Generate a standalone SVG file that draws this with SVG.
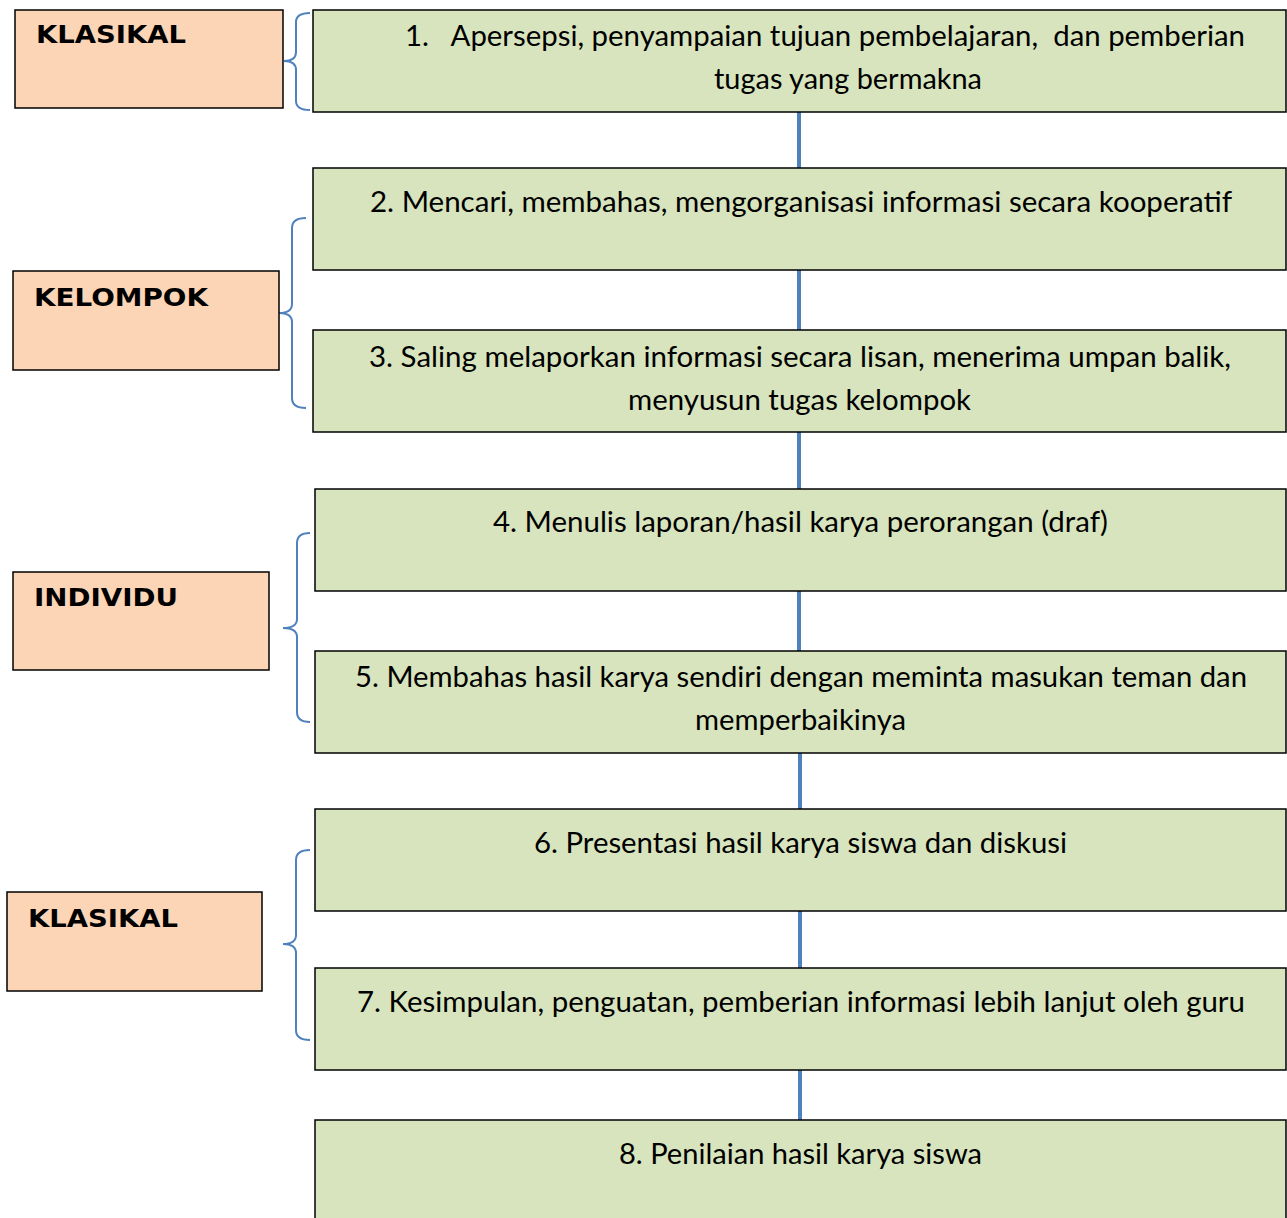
<svg xmlns="http://www.w3.org/2000/svg" width="1287" height="1218" viewBox="0 0 1287 1218">
<style>
.lbl{fill:#FBD5B5;stroke:#000;stroke-width:1.5}
.stp{fill:#D7E4BD;stroke:#000;stroke-width:1.5}
.lt{font-family:"DejaVu Sans",Verdana,sans-serif;font-weight:bold;font-size:25px;fill:#000}
.st{font-family:Lato,"Open Sans",sans-serif;font-size:29px;fill:#000}
.br{fill:none;stroke:#4F81BD;stroke-width:2}
.cn{stroke:#4F81BD;stroke-width:4}
</style>
<rect width="1287" height="1218" fill="#fff"/>
<g id="connectors">
<line class="cn" x1="799" y1="112" x2="799" y2="168"/>
<line class="cn" x1="799" y1="270" x2="799" y2="330"/>
<line class="cn" x1="799" y1="432" x2="799" y2="489"/>
<line class="cn" x1="799" y1="591" x2="799" y2="651"/>
<line class="cn" x1="800" y1="753" x2="800" y2="809"/>
<line class="cn" x1="800" y1="911" x2="800" y2="968"/>
<line class="cn" x1="800" y1="1070" x2="800" y2="1120"/>
</g>
<g id="braces">
<path class="br" d="M310,13 Q296,13 296,22 L296,52 Q296,61 284,61 Q296,61 296,70 L296,101 Q296,110 310,110"/>
<path class="br" d="M306,218 Q292,218 292,228 L292,304 Q292,313 279,313 Q292,313 292,322 L292,398 Q292,408 306,408"/>
<path class="br" d="M310,533 Q297,533 297,543 L297,619 Q297,628 283,628 Q297,628 297,637 L297,712 Q297,722 310,722"/>
<path class="br" d="M310,850 Q296,850 296,860 L296,935 Q296,944 283,944 Q296,944 296,953 L296,1030 Q296,1040 310,1040"/>
</g>
<g id="label-klasikal-1"><rect class="lbl" x="15" y="10" width="268" height="98"/><text class="lt" x="36" y="43" textLength="150" lengthAdjust="spacingAndGlyphs">KLASIKAL</text></g>
<g id="label-kelompok"><rect class="lbl" x="13" y="271" width="266" height="99"/><text class="lt" x="34" y="306" textLength="174" lengthAdjust="spacingAndGlyphs">KELOMPOK</text></g>
<g id="label-individu"><rect class="lbl" x="13" y="572" width="256" height="98"/><text class="lt" x="34" y="606" textLength="144" lengthAdjust="spacingAndGlyphs">INDIVIDU</text></g>
<g id="label-klasikal-2"><rect class="lbl" x="7" y="892" width="255" height="99"/><text class="lt" x="28" y="927" textLength="150" lengthAdjust="spacingAndGlyphs">KLASIKAL</text></g>
<g id="step-1"><rect class="stp" x="313" y="10" width="973" height="102"/>
<text class="st" x="405" y="46" textLength="840" lengthAdjust="spacingAndGlyphs" xml:space="preserve">1.   Apersepsi, penyampaian tujuan pembelajaran,  dan pemberian</text>
<text class="st" x="714" y="89" textLength="268" lengthAdjust="spacingAndGlyphs">tugas yang bermakna</text></g>
<g id="step-2"><rect class="stp" x="313" y="168" width="973" height="102"/>
<text class="st" x="370" y="212" textLength="862" lengthAdjust="spacingAndGlyphs">2. Mencari, membahas, mengorganisasi informasi secara kooperatif</text></g>
<g id="step-3"><rect class="stp" x="313" y="330" width="973" height="102"/>
<text class="st" x="369" y="367" textLength="862" lengthAdjust="spacingAndGlyphs">3. Saling melaporkan informasi secara lisan, menerima umpan balik,</text>
<text class="st" x="628" y="410" textLength="343" lengthAdjust="spacingAndGlyphs">menyusun tugas kelompok</text></g>
<g id="step-4"><rect class="stp" x="315" y="489" width="971" height="102"/>
<text class="st" x="493" y="532" textLength="615" lengthAdjust="spacingAndGlyphs">4. Menulis laporan/hasil karya perorangan (draf)</text></g>
<g id="step-5"><rect class="stp" x="315" y="651" width="971" height="102"/>
<text class="st" x="355" y="687" textLength="892" lengthAdjust="spacingAndGlyphs">5. Membahas hasil karya sendiri dengan meminta masukan teman dan</text>
<text class="st" x="695" y="730" textLength="211" lengthAdjust="spacingAndGlyphs">memperbaikinya</text></g>
<g id="step-6"><rect class="stp" x="315" y="809" width="971" height="102"/>
<text class="st" x="534" y="853" textLength="533" lengthAdjust="spacingAndGlyphs">6. Presentasi hasil karya siswa dan diskusi</text></g>
<g id="step-7"><rect class="stp" x="315" y="968" width="971" height="102"/>
<text class="st" x="357" y="1012" textLength="888" lengthAdjust="spacingAndGlyphs">7. Kesimpulan, penguatan, pemberian informasi lebih lanjut oleh guru</text></g>
<g id="step-8"><rect class="stp" x="315" y="1120" width="971" height="110"/>
<text class="st" x="619" y="1164" textLength="363" lengthAdjust="spacingAndGlyphs">8. Penilaian hasil karya siswa</text></g>
</svg>
